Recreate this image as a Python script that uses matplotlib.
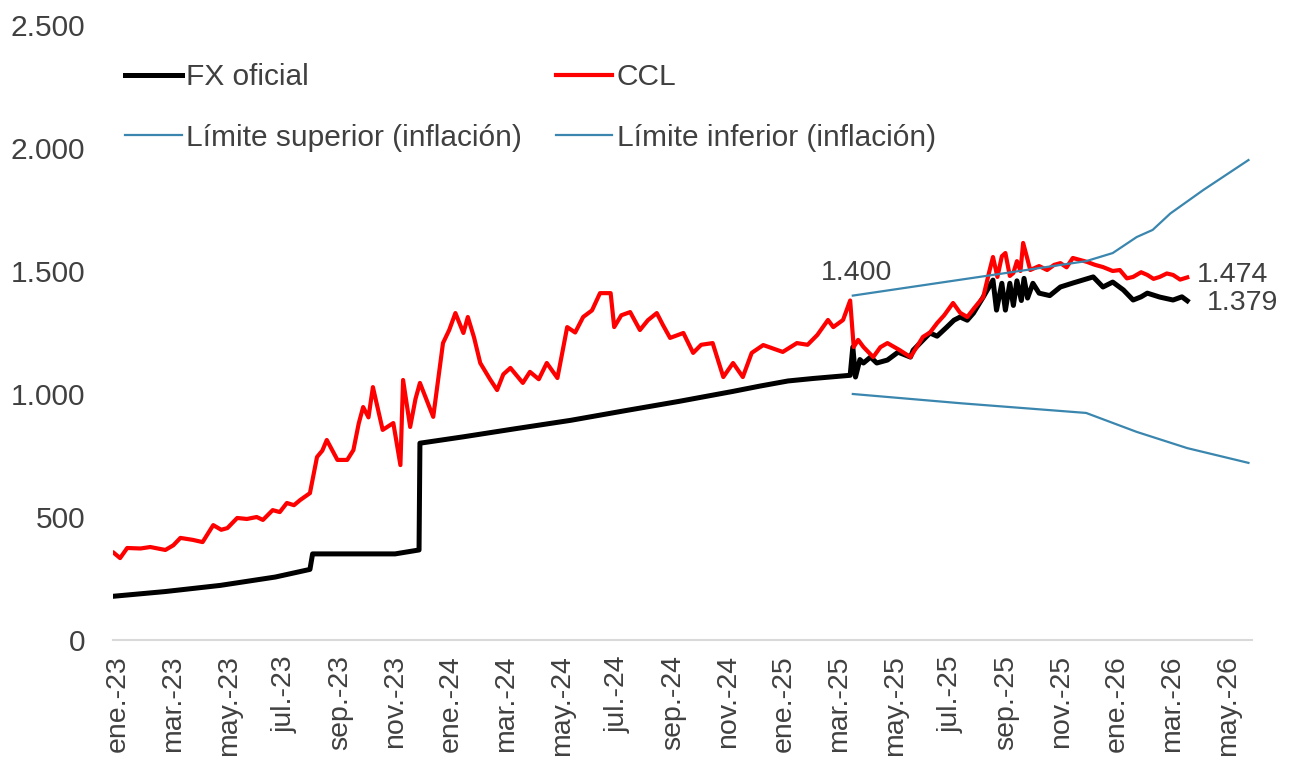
import numpy as np
import pandas as pd
import matplotlib
matplotlib.use("Agg")
import matplotlib.pyplot as plt
import matplotlib.dates as mdates
from matplotlib.ticker import FuncFormatter

plt.rcParams['font.family'] = ['Liberation Sans', 'DejaVu Sans']

# FX oficial (A3500)
fx_dates = ["2023-01-02", "2023-03-01", "2023-05-02", "2023-07-03", "2023-08-11",
            "2023-08-14", "2023-11-15", "2023-12-12", "2023-12-13", "2024-01-31",
            "2024-03-28", "2024-05-31", "2024-07-31", "2024-09-30", "2024-11-29",
            "2024-12-30", "2025-01-31", "2025-02-28", "2025-04-11", "2025-04-14",
            "2025-04-17", "2025-04-22", "2025-04-26", "2025-05-04", "2025-05-11",
            "2025-05-23", "2025-06-04", "2025-06-18", "2025-06-21", "2025-07-01",
            "2025-07-10", "2025-07-18", "2025-07-29", "2025-08-06", "2025-08-13",
            "2025-08-21", "2025-08-28", "2025-09-08", "2025-09-19", "2025-09-23",
            "2025-09-29", "2025-10-03", "2025-10-08", "2025-10-12", "2025-10-16",
            "2025-10-21", "2025-10-24", "2025-10-28", "2025-11-03", "2025-11-10",
            "2025-11-22", "2025-12-04", "2025-12-18", "2026-01-10", "2026-01-21",
            "2026-02-01", "2026-02-13", "2026-02-24", "2026-03-05", "2026-03-12",
            "2026-03-26", "2026-04-10", "2026-04-20", "2026-04-26"]
fx_vals = [178, 197, 222, 256, 287,
           350, 350, 366, 800, 826,
           858, 893, 932, 970, 1010,
           1032, 1053, 1063, 1076, 1191,
           1069, 1140, 1126, 1150, 1126,
           1138, 1170, 1150, 1178, 1215,
           1248, 1235, 1272, 1300, 1313,
           1300, 1329, 1394, 1463, 1341,
           1450, 1341, 1450, 1360, 1460,
           1380, 1470, 1390, 1450, 1410,
           1400, 1435, 1451, 1476, 1435,
           1455, 1423, 1382, 1395, 1410,
           1394, 1382, 1395, 1379]

# CCL
ccl_dates = ["2023-01-02", "2023-01-09", "2023-01-17", "2023-02-01", "2023-02-12",
             "2023-03-01", "2023-03-10", "2023-03-18", "2023-04-01", "2023-04-12",
             "2023-04-24", "2023-05-03", "2023-05-10", "2023-05-21", "2023-06-01",
             "2023-06-12", "2023-06-19", "2023-06-30", "2023-07-08", "2023-07-16",
             "2023-07-24", "2023-07-31", "2023-08-11", "2023-08-19", "2023-08-25",
             "2023-08-30", "2023-09-11", "2023-09-22", "2023-09-29", "2023-10-05",
             "2023-10-10", "2023-10-16", "2023-10-21", "2023-11-01", "2023-11-13",
             "2023-11-21", "2023-11-24", "2023-12-02", "2023-12-08", "2023-12-13",
             "2023-12-28", "2024-01-08", "2024-01-15", "2024-01-22", "2024-01-31",
             "2024-02-05", "2024-02-12", "2024-02-19", "2024-03-01", "2024-03-09",
             "2024-03-16", "2024-03-24", "2024-04-07", "2024-04-15", "2024-04-25",
             "2024-05-04", "2024-05-16", "2024-05-27", "2024-06-05", "2024-06-14",
             "2024-06-24", "2024-07-03", "2024-07-15", "2024-07-19", "2024-07-27",
             "2024-08-06", "2024-08-17", "2024-08-26", "2024-09-05", "2024-09-12",
             "2024-09-20", "2024-10-05", "2024-10-16", "2024-10-25", "2024-11-07",
             "2024-11-19", "2024-11-30", "2024-12-11", "2024-12-21", "2025-01-03",
             "2025-01-14", "2025-01-25", "2025-02-10", "2025-02-22", "2025-03-05",
             "2025-03-17", "2025-03-23", "2025-04-03", "2025-04-11", "2025-04-15",
             "2025-04-20", "2025-04-26", "2025-05-07", "2025-05-15", "2025-05-23",
             "2025-06-06", "2025-06-18", "2025-07-02", "2025-07-10", "2025-07-18",
             "2025-07-26", "2025-08-05", "2025-08-13", "2025-08-21", "2025-08-29",
             "2025-09-08", "2025-09-15", "2025-09-19", "2025-09-24", "2025-09-29",
             "2025-10-03", "2025-10-08", "2025-10-12", "2025-10-16", "2025-10-20",
             "2025-10-23", "2025-10-27", "2025-10-31", "2025-11-10", "2025-11-19",
             "2025-11-27", "2025-12-04", "2025-12-11", "2025-12-18", "2026-01-03",
             "2026-01-12", "2026-01-21", "2026-02-01", "2026-02-09", "2026-02-17",
             "2026-02-24", "2026-03-05", "2026-03-12", "2026-03-19", "2026-03-26",
             "2026-04-03", "2026-04-10", "2026-04-18", "2026-04-26"]
ccl_vals = [354, 333, 374, 372, 378,
            366, 385, 415, 407, 398,
            467, 448, 455, 496, 492,
            500, 488, 528, 520, 557,
            548, 569, 597, 744, 770,
            813, 732, 732, 772, 880,
            947, 905, 1028, 854, 882,
            711, 1057, 866, 980, 1045,
            907, 1207, 1260, 1329, 1248,
            1313, 1230, 1126, 1060, 1016,
            1080, 1106, 1045, 1090, 1060,
            1126, 1065, 1272, 1250, 1313,
            1340, 1410, 1410, 1272, 1320,
            1333, 1260, 1300, 1329, 1280,
            1228, 1248, 1167, 1200, 1207,
            1069, 1126, 1069, 1167, 1199,
            1185, 1171, 1207, 1200, 1240,
            1301, 1272, 1301, 1380, 1191,
            1220, 1191, 1150, 1190, 1207,
            1178, 1150, 1232, 1250, 1288,
            1320, 1370, 1330, 1313, 1350,
            1394, 1500, 1557, 1476, 1560,
            1573, 1480, 1492, 1540, 1500,
            1614, 1560, 1504, 1520, 1504,
            1525, 1532, 1515, 1553, 1537,
            1525, 1516, 1500, 1504, 1470,
            1476, 1495, 1484, 1468, 1476,
            1490, 1484, 1465, 1474]

# Bandas cambiarias
sup_dates = ["2025-04-14", "2026-01-02", "2026-02-01", "2026-02-28", "2026-03-18",
             "2026-04-07", "2026-05-14", "2026-07-04"]
sup_vals = [1400, 1540, 1573, 1638, 1667, 1734, 1829, 1951]
inf_dates = ["2025-04-14", "2025-08-15", "2026-01-02", "2026-02-28", "2026-04-26",
             "2026-07-04"]
inf_vals = [1000, 962, 923, 846, 780, 720]

tick_labels = ["ene.-23", "mar.-23", "may.-23", "jul.-23", "sep.-23", "nov.-23",
               "ene.-24", "mar.-24", "may.-24", "jul.-24", "sep.-24", "nov.-24",
               "ene.-25", "mar.-25", "may.-25", "jul.-25", "sep.-25", "nov.-25",
               "ene.-26", "mar.-26", "may.-26"]

fx_d = pd.to_datetime(fx_dates)
ccl_d = pd.to_datetime(ccl_dates)
sup_d = pd.to_datetime(sup_dates)
inf_d = pd.to_datetime(inf_dates)

blue = '#3A86AE'
txt = '#404040'

fig = plt.figure(figsize=(12.93, 7.69), dpi=100)
ax = fig.add_axes([113 / 1293, 129 / 769, 1139 / 1293, 615 / 769])

l_fx, = ax.plot(fx_d, fx_vals, color='black', lw=3.6, label='FX oficial', solid_joinstyle='round')
l_ccl, = ax.plot(ccl_d, ccl_vals, color='#FF0000', lw=3.0, label='CCL', solid_joinstyle='round')
l_sup, = ax.plot(sup_d, sup_vals, color=blue, lw=1.6, label='Límite superior (inflación)')
l_inf, = ax.plot(inf_d, inf_vals, color=blue, lw=1.6, label='Límite inferior (inflación)')

# etiquetas de valores
ax.annotate("1.400", (sup_d[0], sup_vals[0]), xytext=(4, 23), textcoords='offset pixels',
            ha='center', va='center', fontsize=20.5, color=txt)
ax.annotate("1.474", (ccl_d[-1], ccl_vals[-1]), xytext=(10, 2), textcoords='offset pixels',
            ha='left', va='center', fontsize=20.5, color=txt)
ax.annotate("1.379", (fx_d[-1], fx_vals[-1]), xytext=(20, -2), textcoords='offset pixels',
            ha='left', va='center', fontsize=20.5, color=txt)

start = mdates.date2num(pd.Timestamp("2023-01-01"))
ax.set_xlim(start, start + 1284)
ax.set_ylim(0, 2500)
ax.set_yticks(np.arange(0, 2501, 500))
ax.yaxis.set_major_formatter(FuncFormatter(lambda v, p: f"{int(v):,}".replace(",", ".")))

# eje de categorías (días hábiles): etiquetas cada ~62 días
ticks = np.linspace(start + 5.6, start + 1257, len(tick_labels))
ax.set_xticks(ticks)
ax.set_xticklabels(tick_labels, rotation=90, va='top', ha='center')

ax.tick_params(axis='y', length=0, pad=20, labelsize=21.5, labelcolor=txt)
ax.tick_params(axis='x', length=0, pad=11, labelsize=20.5, labelcolor=txt)
for s in ['top', 'right', 'left']:
    ax.spines[s].set_visible(False)
ax.spines['bottom'].set_color('#D9D9D9')
ax.spines['bottom'].set_linewidth(1.5)

# orden por columnas para que la fila 1 sea FX / CCL
leg = ax.legend([l_fx, l_sup, l_ccl, l_inf],
                [l_fx.get_label(), l_sup.get_label(), l_ccl.get_label(), l_inf.get_label()],
                loc='upper left', bbox_to_anchor=(125 / 1293, 1 - 63 / 769),
                bbox_transform=fig.transFigure, ncol=2, frameon=False,
                fontsize=21.5, handlelength=1.9, handletextpad=0.15,
                columnspacing=1.12, labelspacing=1.1, borderpad=0, borderaxespad=0)
for t in leg.get_texts():
    t.set_color(txt)

fig.savefig("out.png", dpi=100)
